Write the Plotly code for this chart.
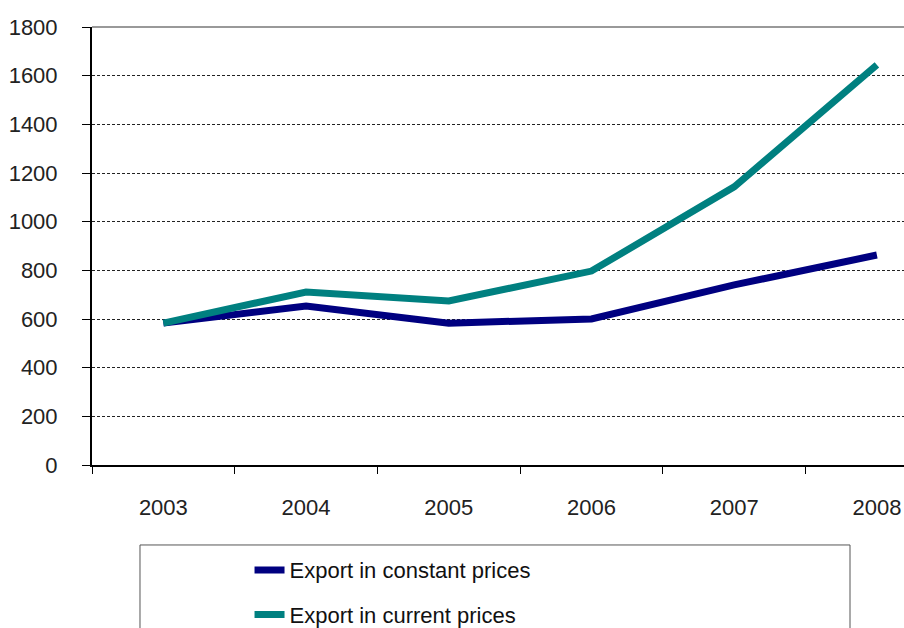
import plotly.graph_objects as go

years = ["2003", "2004", "2005", "2006", "2007", "2008"]
constant_prices = [583, 653, 583, 600, 740, 863]
current_prices = [583, 711, 674, 797, 1143, 1644]

NAVY = "#000080"
TEAL = "#008080"
FONT = "Liberation Sans, Arial, sans-serif"

fig = go.Figure()
fig.add_trace(go.Scatter(
    x=years, y=constant_prices, mode="lines", name="Export in constant prices",
    line=dict(color=NAVY, width=7), legendgroup="a",
))
fig.add_trace(go.Scatter(
    x=years, y=current_prices, mode="lines", name="Export in current prices",
    line=dict(color=TEAL, width=7), legendgroup="b",
))

# plot-area frame on top and the box around the legend
fig.add_shape(type="line", xref="paper", yref="paper", x0=0, x1=1, y0=1, y1=1,
              line=dict(color="#999999", width=2), layer="above")
fig.add_shape(type="rect", xref="paper", yref="paper",
              x0=0.0591, x1=0.9335, y0=-0.1826, y1=-0.6,
              line=dict(color="#555555", width=1), fillcolor="rgba(0,0,0,0)")

fig.update_layout(
    width=904, height=628,
    margin=dict(l=92, r=0, t=27, b=163, autoexpand=False),
    paper_bgcolor="white", plot_bgcolor="white",
    font=dict(family=FONT, size=22, color="#222222"),
    showlegend=True,
    legend=dict(
        orientation="v", x=0.194, xanchor="left", y=-0.192, yanchor="top",
        font=dict(family=FONT, size=22, color="#111111"),
        bgcolor="rgba(0,0,0,0)", borderwidth=0,
        traceorder="grouped", tracegroupgap=13,
    ),
    xaxis=dict(
        type="category", range=[-0.5, 5.19],
        showline=True, linecolor="black", linewidth=2,
        ticks="outside", ticklen=7, tickcolor="black", tickwidth=1,
        tickson="boundaries", showgrid=False, zeroline=False,
        ticklabelstandoff=22,
        tickfont=dict(family=FONT, size=22, color="#222222"),
    ),
    yaxis=dict(
        range=[0, 1800], tickvals=[0, 200, 400, 600, 800, 1000, 1200, 1400, 1600, 1800],
        showline=True, linecolor="black", linewidth=2,
        ticks="outside", ticklen=8, tickcolor="black", tickwidth=1,
        showgrid=True, gridcolor="#222222", gridwidth=1, griddash="3px,2px",
        zeroline=False, ticklabelstandoff=20,
        tickfont=dict(family=FONT, size=22, color="#222222"),
    ),
)

fig.write_html("out.html")
